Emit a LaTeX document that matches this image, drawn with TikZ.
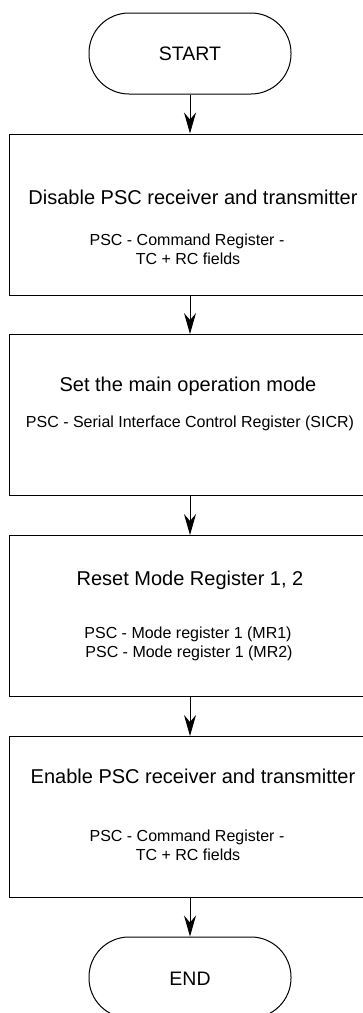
\documentclass[tikz,border=0pt]{standalone}
\usepackage{fontspec}
\setmainfont{Liberation Sans}
\usetikzlibrary{arrows.meta}

\tikzset{
  x=1pt, y=-1pt,
  stepbox/.style={draw=black, line width=1pt, rectangle, inner sep=0pt,
    minimum width=362pt, minimum height=161pt},
  terminal/.style={draw=black, line width=1pt, rectangle, rounded corners=40pt,
    inner sep=0pt, minimum width=202pt, minimum height=81pt},
  titletext/.style={anchor=base, inner sep=0pt, font=\fontsize{20}{24}\selectfont},
  termtext/.style={anchor=base, inner sep=0pt, font=\fontsize{19.5}{24}\selectfont},
  subtext/.style={anchor=base, inner sep=0pt, align=center,
    font=\fontsize{16}{19}\selectfont},
  flow/.style={draw=black, line width=1pt,
    -{Stealth[length=21pt, width=12pt, inset=7pt]}},
}

\begin{document}
\begin{tikzpicture}
\useasboundingbox (0,0) rectangle (363,1013);
\clip (0,0) rectangle (363,1013);
\fill[white] (0,0) rectangle (363,1013);

% terminals and process boxes
\node[terminal] (start) at (190,53.5) {};
\node[stepbox] (b1) at (190,214.5) {};
\node[stepbox] (b2) at (190,415) {};
\node[stepbox] (b3) at (190,616) {};
\node[stepbox] (b4) at (190,817) {};
\node[terminal] (end) at (190,977.5) {};

% labels
\node[termtext] (tstart) at (190,60.5) {START};

\node[titletext] (t1) at (193,204) {Disable PSC receiver and transmitter};
\node[subtext] (s1a) at (187,245) {PSC - Command Register -};
\node[subtext] (s1b) at (188,264) {TC + RC fields};

\node[titletext] (t2) at (188,391) {Set the main operation mode};
\node[subtext] (s2) at (190,427) {PSC - Serial Interface Control Register (SICR)};

\node[titletext] (t3) at (190,585) {Reset Mode Register 1, 2};
\node[subtext] (s3a) at (188,638) {PSC - Mode register 1 (MR1)};
\node[subtext] (s3b) at (189,657) {PSC - Mode register 1 (MR2)};

\node[titletext] (t4) at (193,783) {Enable PSC receiver and transmitter};
\node[subtext] (s4a) at (187,841) {PSC - Command Register -};
\node[subtext] (s4b) at (188,860) {TC + RC fields};

\node[termtext] (tend) at (190,985) {END};

% connectors
\draw[flow] (start) -- (b1);
\draw[flow] (b1) -- (b2);
\draw[flow] (b2) -- (b3);
\draw[flow] (b3) -- (b4);
\draw[flow] (b4) -- (end);
\end{tikzpicture}
\end{document}
